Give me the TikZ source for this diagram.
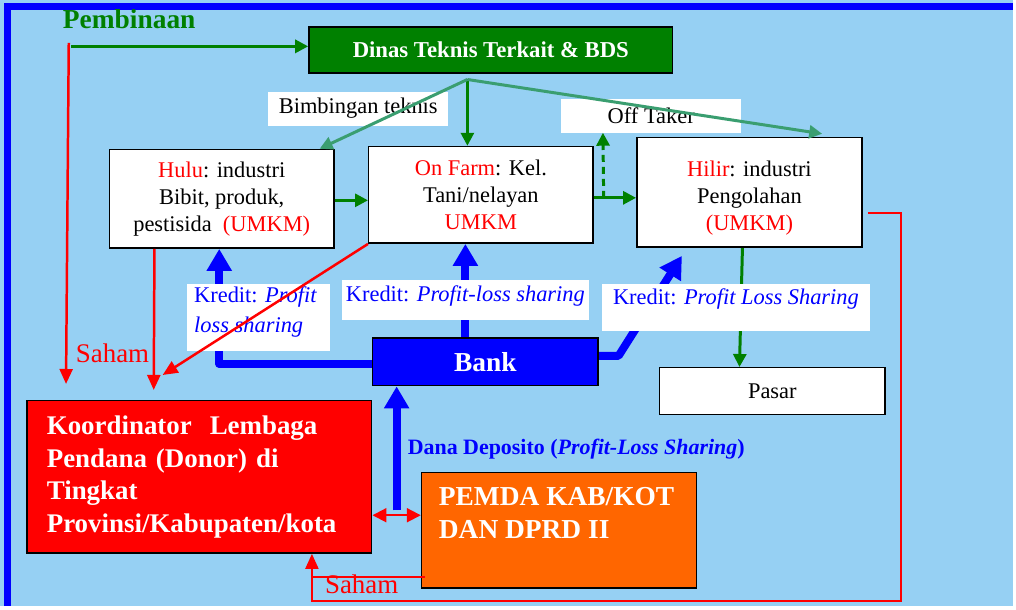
\documentclass[tikz,border=0pt]{standalone}
\usepackage{fontspec}
\setmainfont{Liberation Serif}
\usetikzlibrary{arrows.meta}
\pgfdeclarelayer{bglayer}
\pgfdeclarelayer{midlayer}
\pgfsetlayers{bglayer,midlayer,main}
\definecolor{bgblue}{RGB}{150,208,243}
\definecolor{dgreen}{RGB}{0,128,0}
\definecolor{tealg}{RGB}{58,158,112}
\definecolor{orng}{RGB}{255,102,0}
\definecolor{pblue}{RGB}{0,0,255}
\newcommand\normtxt{\fontsize{22.5}{27}\selectfont}
\newcommand\bigbold{\bfseries\fontsize{27.5}{32.5}\selectfont}
\tikzset{
  box/.style={draw=black, line width=1.5pt, fill=white, inner sep=0pt, align=center, font=\normtxt},
  lbl/.style={fill=white, inner sep=0pt, font=\normtxt},
  garr/.style={draw=dgreen, line width=3pt, -{Triangle[width=13pt,length=13pt]}},
  tarr/.style={draw=tealg, line width=3pt, -{Triangle[width=13pt,length=13pt]}},
  barr/.style={draw=pblue, line width=8pt, line join=round, -{Triangle[width=24pt,length=22pt]}},
  rarr/.style={draw=red, line width=2.5pt, -{Triangle[width=13pt,length=15pt]}},
}
\begin{document}
\begin{tikzpicture}[x=1pt,y=-1pt]
\begin{pgfonlayer}{bglayer}
\fill[bgblue] (0,0) rectangle (1016,608);
\draw[pblue, line width=7pt] (1016,6.5) -- (8,6.5) -- (8,608);
\end{pgfonlayer}
\useasboundingbox (0,0) rectangle (1016,608);

% ---- boxes
\node[box, fill=dgreen, text=white, minimum width=365pt, minimum height=46pt,
      font=\bfseries\fontsize{22.8}{26}\selectfont] (Dinas) at (492.5,50) {Dinas Teknis Terkait \& BDS};
\node[box, minimum width=225pt, minimum height=99pt] (Hulu) at (222.5,199.5)
  {\textcolor{red}{Hulu}: industri\\Bibit, produk,\\pestisida\ \ \textcolor{red}{(UMKM)}};
\node[box, minimum width=225pt, minimum height=97pt] (OnFarm) at (482.5,195.5)
  {\textcolor{red}{On Farm}: Kel.\\Tani/nelayan\\\textcolor{red}{UMKM}};
\node[box, minimum width=226pt, minimum height=110pt,
      label={[align=center, font=\normtxt, yshift=-6pt]center:{\textcolor{red}{Hilir}: industri\\Pengolahan\\\textcolor{red}{(UMKM)}}}] (Hilir) at (752,193) {};
\node[box, minimum width=226pt, minimum height=47pt] (Pasar) at (775,392.5) {Pasar};
\node[box, fill=pblue, text=white, font=\bigbold, minimum width=226pt, minimum height=48pt] (Bank) at (487,363) {Bank};
\node[box, fill=red, text=white, font=\bfseries\fontsize{27}{32.7}\selectfont, align=left,
      minimum width=346pt, minimum height=153pt, text width=306pt] (Koord) at (200,478.5)
  {Koordinator\ \ Lembaga\\Pendana (Donor) di\\Tingkat\\Provinsi/Kabupaten/kota};
\node[box, fill=orng, minimum width=276pt, minimum height=116pt] (Pemda) at (561,532) {};
\node[anchor=north west, inner sep=0pt, text=white, font=\bigbold, align=left] (PemdaTxt)
  at ([xshift=18pt,yshift=-16pt]Pemda.north west) {PEMDA KAB/KOT\\DAN DPRD II};

% ---- white labels
\node[lbl, minimum width=181pt, minimum height=34pt] (Bimb) at (359.5,109) {Bimbingan teknis};
\node[lbl, minimum width=181pt, minimum height=34pt] (Off) at (653.5,116) {Off Taker};
\node[lbl, minimum width=143pt, minimum height=67pt,
      label={[align=left, text=pblue, font=\fontsize{22.5}{30}\selectfont, xshift=-3pt, yshift=5pt]center:{Kredit: \textit{Profit}\\\textit{loss sharing}}}] (K1) at (259.5,318.5) {};
\node[lbl, minimum width=248pt, minimum height=40pt,
      label={[text=pblue, font=\normtxt, yshift=3.5pt]center:{Kredit: \textit{Profit-loss sharing}}}] (K2) at (467,301) {};
\node[lbl, minimum width=269pt, minimum height=47pt,
      label={[text=pblue, font=\normtxt, yshift=8pt]center:{Kredit: \textit{Profit Loss Sharing}}}] (K3) at (738.5,308.5) {};

% ---- free texts
\node[anchor=base west, inner sep=0pt, text=dgreen, font=\bfseries\fontsize{27.5}{30}\selectfont] (Pemb) at (63,29) {Pembinaan};
\node[anchor=base west, inner sep=0pt, text=pblue, font=\bfseries\fontsize{22}{26}\selectfont] (Dana) at (409,456) {Dana Deposito (\textit{Profit-Loss Sharing})};
\node[anchor=base west, inner sep=0pt, text=red, font=\fontsize{27}{30}\selectfont] (Saham1) at (76,364) {Saham};
\node[anchor=base west, inner sep=0pt, text=red, font=\fontsize{27}{30}\selectfont] (Saham2) at (326,596) {Saham};

% ---- coordinates
\coordinate (pg) at (71,46.5);
\coordinate (pb) at (69,43);
\coordinate (dt) at ([xshift=-23.5pt,yshift=-6pt]Dinas.south);
\coordinate (dd) at (398,512);
\coordinate (ke) at ([yshift=-38.5pt]Koord.east);
\coordinate (ps) at ([xshift=4pt,yshift=-47pt]Pemda.west);
\coordinate (kb) at ([xshift=113pt]Koord.south);

% ---- blue thick arrows and Hilir->Pasar (under the labels)
\begin{pgfonlayer}{midlayer}
\draw[barr] ([yshift=-2pt]Bank.west) -| ([xshift=-2.5pt]Hulu.south);
\draw[barr] ([xshift=-20pt]Bank.north) -- ([xshift=-20pt]Bank.north |- OnFarm.south);
\draw[barr] ([yshift=6pt]Bank.east) -- ++(20,0) -- ([xshift=46pt,yshift=-8pt]Hilir.south west);
\draw[barr] (dd) -- (dd |- Bank.south);
\draw[garr] ([xshift=-7pt]Hilir.south) -- ([xshift=-33pt]Pasar.north);
\end{pgfonlayer}

% ---- green arrows
\draw[garr] (pg) -- (pg -| Dinas.west);
\draw[garr] (dt) -- (dt |- OnFarm.north);
\draw[garr] ([yshift=-1.5pt]Hulu.east) -- ([yshift=-1.5pt]Hulu.east -| OnFarm.west);
\draw[garr] ([yshift=-3pt]OnFarm.east) -- ([yshift=-3pt]OnFarm.east -| Hilir.west);
\draw[garr, dash pattern=on 7pt off 5pt] ([xshift=10pt,yshift=-3pt]OnFarm.east) -- ([xshift=-48.5pt]Off.south);

% ---- teal arrows
\draw[tarr] (dt) -- ([xshift=-15pt]Hulu.north east);
\draw[tarr] (dt) -- ([xshift=73pt,yshift=3pt]Hilir.north);

% ---- red arrows
\draw[rarr] (pb) -- ([xshift=40pt,yshift=16pt]Koord.north west);
\draw[rarr] ([xshift=-67.5pt]Hulu.south) -- ([xshift=128pt,yshift=10pt]Koord.north west);
\draw[rarr] (OnFarm.south west) -- ([xshift=137pt,yshift=25pt]Koord.north west);
\draw[rarr, line width=2pt] ([xshift=5pt,yshift=-21pt]Hilir.east) -- ++(33,0) |- ([yshift=-47pt]kb) -- (kb);
\draw[red, line width=1.5pt] (ps) -- (ps -| kb);
\draw[red, line width=2pt, {Triangle[width=14pt,length=14pt]}-{Triangle[width=14pt,length=14pt]}] (ke) -- (ke -| Pemda.west);
\end{tikzpicture}
\end{document}
